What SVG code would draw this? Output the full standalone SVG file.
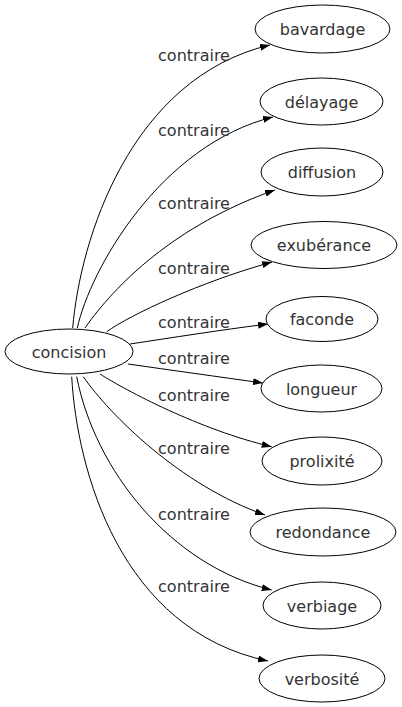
<svg xmlns="http://www.w3.org/2000/svg" width="402" height="707" viewBox="0 0 402 707">
<style>
.node ellipse{fill:#fff;stroke:#000;stroke-width:1}
.node text{font-family:"DejaVu Sans",sans-serif;font-size:16px;fill:#333;text-anchor:middle}
.edge path{fill:none;stroke:#000;stroke-width:1}
.lbl{font-family:"DejaVu Sans",sans-serif;font-size:16px;fill:#333;text-anchor:middle}
</style>
<defs>
<marker id="arr" viewBox="0 0 10 7" refX="10" refY="3.5" markerWidth="10" markerHeight="7" orient="auto" markerUnits="userSpaceOnUse"><path d="M0,0 L10,3.5 L0,7 z" fill="#000"/></marker>
</defs>
<rect width="402" height="707" fill="#fff"/>
<g id="edges" class="edge">
<path marker-end="url(#arr)" d="M72.7,328 C80,240 130,78 270,45"/>
<path marker-end="url(#arr)" d="M77.3,328 C90,270 160,145 273,117"/>
<path marker-end="url(#arr)" d="M85,328 C115,285 175,225 275,190"/>
<path marker-end="url(#arr)" d="M106.7,331.7 C130,315 200,282 272,262"/>
<path marker-end="url(#arr)" d="M130,344 C170,338 220,330 268,324"/>
<path marker-end="url(#arr)" d="M128,364 C170,370 220,377 263,383"/>
<path marker-end="url(#arr)" d="M100,374 C125,390 200,430 271.7,446.7"/>
<path marker-end="url(#arr)" d="M83.3,376.7 C110,415 180,485 265,515"/>
<path marker-end="url(#arr)" d="M76.7,376.7 C95,470 170,565 271.7,590"/>
<path marker-end="url(#arr)" d="M71.7,376.7 C77,470 120,630 268,661"/>
<text class="lbl" x="194" y="61">contraire</text>
<text class="lbl" x="194" y="136">contraire</text>
<text class="lbl" x="194" y="209">contraire</text>
<text class="lbl" x="194" y="274">contraire</text>
<text class="lbl" x="194" y="328">contraire</text>
<text class="lbl" x="194" y="364">contraire</text>
<text class="lbl" x="194" y="401">contraire</text>
<text class="lbl" x="194" y="454">contraire</text>
<text class="lbl" x="194" y="520">contraire</text>
<text class="lbl" x="194" y="592">contraire</text>
</g>
<g id="concision" class="node"><ellipse cx="69" cy="351.5" rx="64" ry="22.5"/><text x="69" y="357.5">concision</text></g>
<g id="bavardage" class="node"><ellipse cx="322.5" cy="29" rx="67.5" ry="24"/><text x="322.5" y="35">bavardage</text></g>
<g id="delayage" class="node"><ellipse cx="321.5" cy="101.5" rx="61.5" ry="23.5"/><text x="321.5" y="107.5">délayage</text></g>
<g id="diffusion" class="node"><ellipse cx="322" cy="172" rx="61" ry="24"/><text x="322" y="178">diffusion</text></g>
<g id="exuberance" class="node"><ellipse cx="324" cy="245" rx="73" ry="23.5"/><text x="324" y="251">exubérance</text></g>
<g id="faconde" class="node"><ellipse cx="322" cy="319" rx="56" ry="22.5"/><text x="322" y="325">faconde</text></g>
<g id="longueur" class="node"><ellipse cx="321.5" cy="388.5" rx="60.5" ry="23.5"/><text x="321.5" y="394.5">longueur</text></g>
<g id="prolixite" class="node"><ellipse cx="322" cy="461" rx="60" ry="24"/><text x="322" y="467">prolixité</text></g>
<g id="redondance" class="node"><ellipse cx="323" cy="532" rx="73" ry="24"/><text x="323" y="538">redondance</text></g>
<g id="verbiage" class="node"><ellipse cx="322" cy="605.5" rx="59" ry="23.5"/><text x="322" y="611.5">verbiage</text></g>
<g id="verbosite" class="node"><ellipse cx="322" cy="678.5" rx="63" ry="23.5"/><text x="322" y="684.5">verbosité</text></g>
</svg>
